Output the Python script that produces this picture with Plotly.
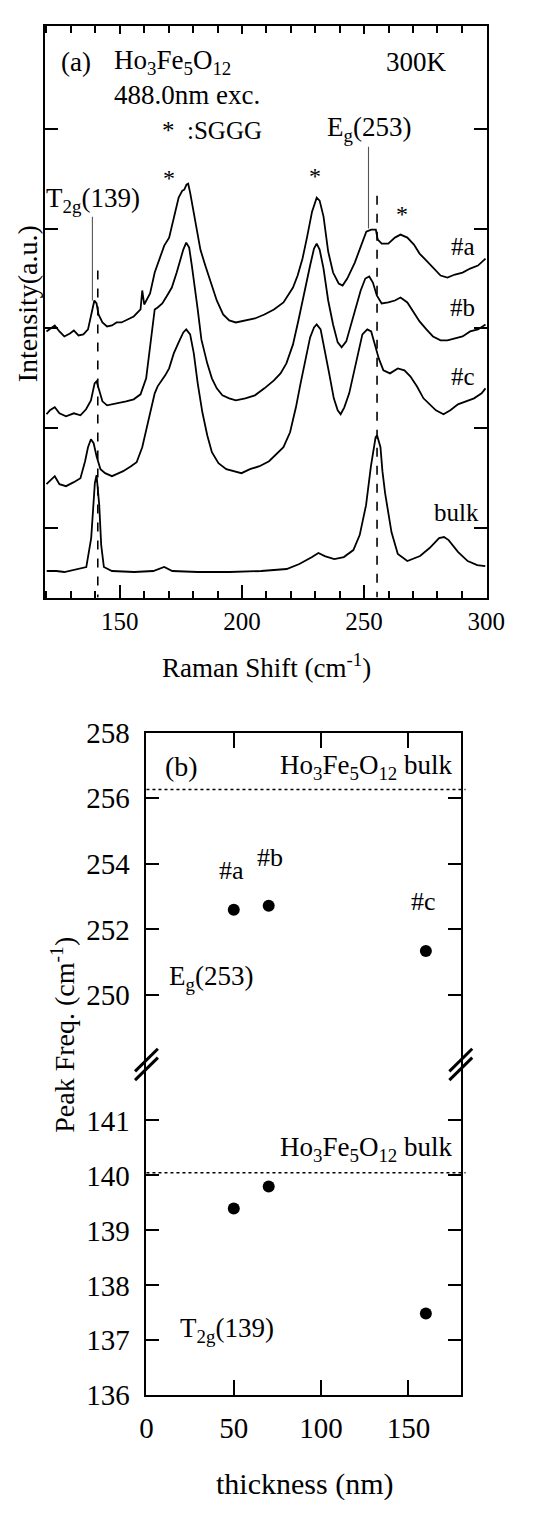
import plotly.graph_objects as go

# ---------------- Panel (a): Raman spectra ----------------
shift_a = [120.0, 123.4, 125.3, 127.3, 129.6, 131.2, 133.1, 135.1, 137.0, 138.6, 139.6, 140.5, 141.3, 142.9,
           144.8, 146.8, 148.7, 150.7, 153.4, 155.7, 158.5, 159.2, 160.0, 162.4, 164.3, 166.3, 168.2, 170.2,
           172.1, 174.1, 175.6, 176.4, 177.3, 178.0, 178.8, 180.6, 183.0, 185.0, 187.0, 189.7, 192.3, 194.8,
           197.5, 201.4, 205.3, 209.2, 213.1, 217.0, 220.9, 222.8, 224.8, 226.7, 228.7, 230.6, 231.8, 233.4,
           235.3, 237.3, 239.6, 241.2, 243.1, 246.2, 249.0, 250.9, 252.9, 254.8, 255.6, 257.2, 259.9, 262.6,
           264.9, 267.7, 270.4, 272.7, 275.5, 278.2, 281.3, 284.1, 287.2, 290.3, 293.4, 296.6, 299.7]
int_a = [2.97, 3.03, 2.97, 2.92, 2.95, 2.98, 2.93, 2.94, 2.99, 3.19, 3.28, 3.25, 3.14, 3.06,
         3.02, 3.03, 3.06, 3.06, 3.09, 3.12, 3.19, 3.38, 3.24, 3.35, 3.56, 3.70, 3.83, 3.91,
         4.12, 4.31, 4.38, 4.39, 4.44, 4.45, 4.36, 4.12, 3.79, 3.63, 3.48, 3.28, 3.14, 3.08,
         3.06, 3.08, 3.10, 3.14, 3.19, 3.26, 3.41, 3.53, 3.70, 3.92, 4.17, 4.31, 4.28, 4.12,
         3.77, 3.56, 3.45, 3.43, 3.50, 3.66, 3.85, 3.97, 3.99, 3.99, 3.89, 3.85, 3.85, 3.91,
         3.94, 3.91, 3.84, 3.75, 3.68, 3.61, 3.53, 3.51, 3.54, 3.56, 3.60, 3.63, 3.70]

shift_b = [120.0, 121.4, 123.4, 125.3, 128.0, 131.2, 133.9, 136.2, 138.2, 139.7, 140.5, 141.7, 142.9, 144.8,
           146.8, 149.5, 152.6, 155.7, 158.5, 160.8, 162.4, 163.5, 164.3, 165.5, 167.4, 169.4, 171.3, 173.3,
           174.8, 176.0, 177.2, 178.4, 179.5, 180.7, 181.9, 183.4, 185.8, 187.7, 189.7, 192.0, 194.8, 197.5,
           201.4, 205.3, 209.2, 213.1, 215.8, 218.2, 220.9, 223.2, 225.6, 227.9, 229.5, 230.6, 231.8, 233.4,
           235.3, 237.3, 239.2, 240.8, 242.7, 244.7, 246.6, 248.6, 250.5, 252.1, 253.6, 255.2, 257.2, 259.9,
           262.6, 264.9, 267.7, 270.4, 272.7, 275.5, 278.2, 281.3, 284.1, 287.2, 290.3, 293.4, 296.6, 299.7]
int_b = [2.14, 2.18, 2.21, 2.15, 2.12, 2.15, 2.13, 2.19, 2.28, 2.45, 2.47, 2.38, 2.27, 2.23,
         2.24, 2.25, 2.27, 2.29, 2.34, 2.50, 2.79, 2.99, 3.19, 3.21, 3.25, 3.33, 3.41, 3.56,
         3.68, 3.79, 3.86, 3.81, 3.63, 3.43, 3.19, 2.89, 2.65, 2.50, 2.40, 2.33, 2.30, 2.28,
         2.30, 2.33, 2.40, 2.48, 2.55, 2.65, 2.84, 3.09, 3.38, 3.63, 3.80, 3.85, 3.79, 3.60,
         3.28, 3.04, 2.86, 2.81, 2.87, 3.04, 3.21, 3.38, 3.50, 3.52, 3.46, 3.33, 3.25, 3.26,
         3.28, 3.31, 3.26, 3.16, 3.07, 2.99, 2.92, 2.88, 2.88, 2.90, 2.92, 2.97, 2.99, 3.04]

shift_c = [120.0, 121.4, 123.4, 125.3, 128.0, 131.2, 133.9, 135.8, 137.0, 138.2, 139.3, 140.5, 142.1, 144.0,
           146.8, 148.7, 151.4, 154.6, 156.9, 159.2, 161.1, 163.1, 164.3, 165.5, 167.0, 168.6, 170.2, 172.1,
           174.1, 176.0, 177.2, 178.8, 180.3, 181.9, 183.8, 185.8, 187.7, 190.4, 193.6, 196.7, 199.8, 203.3,
           207.2, 211.1, 214.3, 217.0, 219.7, 222.1, 224.0, 226.0, 227.9, 229.5, 230.6, 232.2, 233.7, 235.7,
           237.6, 239.2, 240.4, 241.9, 243.9, 245.8, 247.8, 249.3, 251.3, 252.9, 254.4, 256.0, 257.9, 260.6,
           263.8, 266.5, 268.9, 271.6, 274.3, 277.1, 279.4, 282.5, 285.3, 288.4, 291.5, 295.0, 298.1, 299.7]
int_c = [1.44, 1.47, 1.52, 1.44, 1.42, 1.46, 1.50, 1.67, 1.81, 1.89, 1.85, 1.72, 1.59, 1.55,
         1.52, 1.54, 1.57, 1.62, 1.66, 1.81, 2.01, 2.21, 2.35, 2.42, 2.47, 2.53, 2.60, 2.75,
         2.86, 2.96, 2.99, 2.94, 2.75, 2.45, 2.16, 1.93, 1.76, 1.65, 1.59, 1.57, 1.55, 1.59,
         1.62, 1.67, 1.75, 1.81, 1.96, 2.21, 2.45, 2.70, 2.91, 3.01, 3.04, 2.99, 2.81, 2.55,
         2.30, 2.18, 2.14, 2.21, 2.35, 2.55, 2.79, 2.94, 2.99, 2.97, 2.84, 2.70, 2.58, 2.55,
         2.60, 2.58, 2.52, 2.42, 2.30, 2.23, 2.18, 2.14, 2.18, 2.24, 2.27, 2.30, 2.35, 2.40]

shift_bulk = [120.1, 124.0, 127.3, 132.4, 136.3, 138.3, 139.2, 139.8, 140.5, 141.1, 141.6, 142.4, 143.5, 146.8,
              155.9, 163.7, 166.0, 168.2, 171.5, 181.9, 194.9, 207.9, 218.3, 223.5, 228.7, 231.3, 233.9, 237.8,
              241.7, 245.6, 248.2, 250.8, 252.8, 253.8, 254.7, 255.3, 256.7, 257.5, 258.6, 261.2, 263.8, 267.7,
              272.9, 276.8, 280.7, 282.7, 284.6, 288.5, 292.4, 296.3, 299.6]
int_bulk = [0.57, 0.57, 0.56, 0.59, 0.61, 0.90, 1.29, 1.45, 1.53, 1.40, 1.23, 0.83, 0.61, 0.57,
            0.56, 0.57, 0.59, 0.61, 0.57, 0.56, 0.56, 0.57, 0.59, 0.64, 0.71, 0.75, 0.72, 0.69,
            0.71, 0.78, 0.93, 1.23, 1.62, 1.76, 1.91, 1.93, 1.81, 1.57, 1.35, 0.96, 0.74, 0.67,
            0.72, 0.80, 0.90, 0.91, 0.88, 0.76, 0.67, 0.63, 0.62]

spectra_names = ["#a", "#b", "#c", "bulk"]
label_pos_shift = [290.3, 290.3, 290.3, 288.0]
label_pos_int = [3.82, 3.21, 2.52, 1.16]

dash_shift = [141.0, 255.3]
dash_top = [3.58, 4.33]
leader_shift = [138.8, 251.8]
leader_top = [4.12, 4.82]
leader_bottom = [3.28, 4.00]
star_shift = [170.2, 230.0, 265.7]
star_int = [4.51, 4.53, 4.15]

xa_range = [119.4, 300.3]
ya_range = [0.304, 6.03]

# ---------------- Panel (b): peak frequency vs thickness ----------------
thickness = [50, 70, 160]
eg_freq = [252.60, 252.72, 251.34]
t2g_freq = [139.40, 139.80, 137.49]
sample_labels = ["#a", "#b", "#c"]
sample_label_x = [48.7, 70.5, 158.8]
sample_label_y = [253.80, 254.19, 252.85]
bulk_eg = 256.27
bulk_t2g = 140.05
xb_range = [0, 180]
yb_low_range = [136, 142.09]
yb_high_range = [248.0, 258]

FONT = "Liberation Serif, Times New Roman, DejaVu Serif, serif"
# the page body keeps the browser's default 8px margin; the figure is sized to fit inside the window
OFF = 8
W, H = 535 - OFF, 1517 - OFF

def px(x):
    return (x - OFF) / W

def py(y):
    return 1 - (y - OFF) / H

fig = go.Figure()

line_style = dict(color="black", width=1.8)
for s, i in [(shift_a, int_a), (shift_b, int_b), (shift_c, int_c), (shift_bulk, int_bulk)]:
    fig.add_trace(go.Scatter(x=s, y=i, mode="lines", line=line_style, xaxis="x", yaxis="y",
                             showlegend=False, hoverinfo="skip"))

for xs, yt in zip(dash_shift, dash_top):
    fig.add_trace(go.Scatter(x=[xs, xs], y=[yt, ya_range[0]], mode="lines",
                             line=dict(color="black", width=1.6, dash="dash"),
                             xaxis="x", yaxis="y", showlegend=False, hoverinfo="skip"))
for xs, yt, yb in zip(leader_shift, leader_top, leader_bottom):
    fig.add_trace(go.Scatter(x=[xs, xs], y=[yt, yb], mode="lines",
                             line=dict(color="#555555", width=1.1),
                             xaxis="x", yaxis="y", showlegend=False, hoverinfo="skip"))

# panel (b) points
fig.add_trace(go.Scatter(x=thickness, y=eg_freq, mode="markers",
                         marker=dict(color="black", size=12), xaxis="x2", yaxis="y4",
                         showlegend=False, hoverinfo="skip"))
fig.add_trace(go.Scatter(x=thickness, y=t2g_freq, mode="markers",
                         marker=dict(color="black", size=12), xaxis="x2", yaxis="y3",
                         showlegend=False, hoverinfo="skip"))
# invisible traces to create the top-axis subplots
fig.add_trace(go.Scatter(x=[xb_range[0]], y=[yb_high_range[1]], mode="markers",
                         marker=dict(opacity=0), xaxis="x3", yaxis="y4",
                         showlegend=False, hoverinfo="skip"))
fig.add_trace(go.Scatter(x=[xa_range[0]], y=[ya_range[1]], mode="markers",
                         marker=dict(opacity=0), xaxis="x4", yaxis="y",
                         showlegend=False, hoverinfo="skip"))

dom_a_x = [px(39.5), px(503.5)]
dom_a_y = [py(594), py(10)]
dom_b_x = [px(146), px(476)]
y_break = 1067
dom_b_low = [py(1409), py(y_break)]
dom_b_high = [py(y_break), py(732)]

axis_common = dict(showline=True, linecolor="black", linewidth=2, showgrid=False, zeroline=False,
                   ticks="inside", tickcolor="black", tickwidth=2)

fig.update_layout(
    width=W, height=H, autosize=False,
    margin=dict(l=0, r=0, t=0, b=0),
    paper_bgcolor="white", plot_bgcolor="rgba(0,0,0,0)",
    font=dict(family=FONT, color="black"),
    xaxis=dict(domain=dom_a_x, anchor="y", range=xa_range, tickmode="linear", tick0=0, dtick=50,
               ticklen=13, mirror=True, tickfont=dict(size=25, family=FONT),
               ticklabelstandoff=0,
               minor=dict(dtick=10, tick0=0, ticks="inside", ticklen=7, tickcolor="black", tickwidth=2),
               **axis_common),
    xaxis4=dict(domain=dom_a_x, anchor="y", overlaying="x", side="top", range=xa_range,
                tickmode="linear", tick0=0, dtick=50, ticklen=8, showticklabels=False,
                minor=dict(dtick=10, tick0=0, ticks="inside", ticklen=7, tickcolor="black", tickwidth=2),
                **axis_common),
    yaxis=dict(domain=dom_a_y, anchor="x", range=ya_range, tickvals=[1, 2, 3, 4, 5],
               ticklen=13, mirror="ticks", showticklabels=False, **axis_common),
    xaxis2=dict(domain=dom_b_x, anchor="y3", range=xb_range, tickvals=[0, 50, 100, 150],
                ticklen=15, tickfont=dict(size=29, family=FONT), ticklabelstandoff=6,
                **axis_common),
    xaxis3=dict(domain=dom_b_x, anchor="y4", overlaying="x2", side="top", range=xb_range,
                tickvals=[50, 100, 150], ticklen=15, showticklabels=False, **axis_common),
    yaxis3=dict(domain=dom_b_low, anchor="x2", range=yb_low_range, tickvals=[136, 137, 138, 139, 140, 141],
                ticklen=13, mirror="ticks", tickfont=dict(size=29, family=FONT), ticklabelstandoff=9,
                **axis_common),
    yaxis4=dict(domain=dom_b_high, anchor="x2", range=yb_high_range, tickvals=[250, 252, 254, 256, 258],
                ticklen=13, mirror="ticks", tickfont=dict(size=29, family=FONT), ticklabelstandoff=9,
                **axis_common),
)

ann = []
def A(text, x, y, xref, yref, size, xanchor="center", yanchor="middle", angle=0):
    ann.append(dict(text=text, x=x, y=y, xref=xref, yref=yref, showarrow=False,
                    xanchor=xanchor, yanchor=yanchor, textangle=angle,
                    font=dict(family=FONT, size=size, color="black")))

HFO = "Ho<sub>3</sub>Fe<sub>5</sub>O<sub>12</sub>"
# panel (a) texts
A("(a)", 131.9, 5.67, "x", "y", 27)
A(HFO, 146.8, 5.67, "x", "y", 27, xanchor="left")
A("488.0nm exc.", 146.8, 5.34, "x", "y", 27, xanchor="left")
A("300K", 271.6, 5.67, "x", "y", 27)
A("*  :SGGG", 166.3, 4.98, "x", "y", 25, xanchor="left")
A("E<sub>g</sub>(253)", 252.0, 5.00, "x", "y", 27)
A("T<sub>2g</sub>(139)", 139.0, 4.29, "x", "y", 27)
for xs, ys in zip(star_shift, star_int):
    A("*", xs, ys, "x", "y", 24)
for name, xs, ys in zip(spectra_names, label_pos_shift, label_pos_int):
    A(name, xs, ys, "x", "y", 25)
A("Raman Shift (cm<sup>-1</sup>)", px(272), py(664), "paper", "paper", 27)
A("Intensity(a.u.)", px(22), py(294), "paper", "paper", 28, angle=-90)

# panel (b) texts
A("(b)", 20.3, 256.96, "x2", "y4", 28)
A(HFO + " bulk", 176.8, 256.95, "x2", "y4", 27, xanchor="right")
A(HFO + " bulk", 176.8, 140.48, "x2", "y3", 27, xanchor="right")
for t, xs, ys in zip(sample_labels, sample_label_x, sample_label_y):
    A(t, xs, ys, "x2", "y4", 26)
A("E<sub>g</sub>(253)", 36.8, 250.52, "x2", "y4", 27)
A("T<sub>2g</sub>(139)", 46.0, 137.18, "x2", "y3", 27)
A("Peak Freq. (cm<sup>-1</sup>)", px(58), py(1041), "paper", "paper", 28, angle=-90)
A("thickness (nm)", px(312), py(1500), "paper", "paper", 30)
fig.update_layout(annotations=ann)

shapes = []
# dotted bulk reference lines (extend slightly past the frame)
for val, yref in [(bulk_eg, "y4"), (bulk_t2g, "y3")]:
    shapes.append(dict(type="line", xref="x2 domain", yref=yref, x0=0, x1=1.015, y0=val, y1=val,
                       line=dict(color="black", width=1.5, dash="dot")))
# axis-break marks
bw = 330.0
for xd in [0.0, 1.0]:
    for off in [0, 9]:
        shapes.append(dict(type="line", xref="x2 domain", yref="paper",
                           x0=xd - 12 / bw, x1=xd + 12 / bw,
                           y0=py(1078 + off), y1=py(1055 + off),
                           line=dict(color="black", width=3)))
fig.update_layout(shapes=shapes)

fig.write_html("out.html")
